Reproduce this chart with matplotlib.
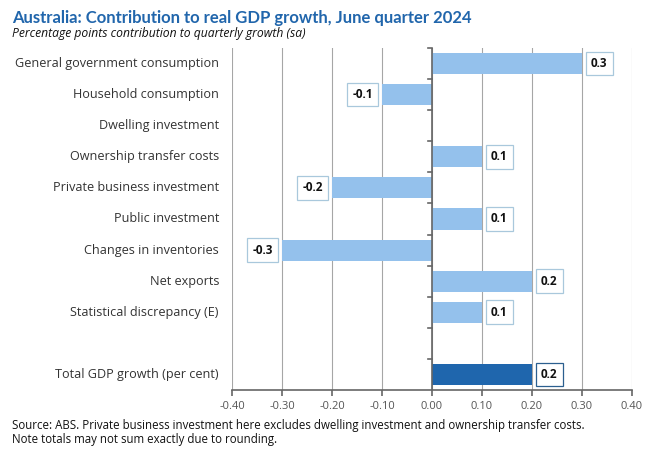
import numpy as np
import matplotlib.pyplot as plt

# data
categories = ["General government consumption", "Household consumption",
              "Dwelling investment", "Ownership transfer costs",
              "Private business investment", "Public investment",
              "Changes in inventories", "Net exports",
              "Statistical discrepancy (E)", "", "Total GDP growth (per cent)"]
values = [0.3, -0.1, 0.0, 0.1, -0.2, 0.1, -0.3, 0.2, 0.1, None, 0.2]
labels = ["0.3", "-0.1", "", "0.1", "-0.2", "0.1", "-0.3", "0.2", "0.1", "", "0.2"]
xticks = [-0.4, -0.3, -0.2, -0.1, 0.0, 0.1, 0.2, 0.3, 0.4]

light = "#94c1ec"
dark = "#1f66ad"

plt.rcParams['font.family'] = ['Open Sans', 'DejaVu Sans']

fig = plt.figure(figsize=(6.5, 4.55), dpi=100)
ax = fig.add_axes([232 / 650, 1 - 390 / 455, 400 / 650, 342 / 455])

y = np.arange(len(categories))
for i, (v, lab) in enumerate(zip(values, labels)):
    if v is None:
        continue
    total = i == len(categories) - 1
    col = dark if total else light
    ax.barh(y[i], v, height=0.68, color=col, zorder=2)
    if lab:
        off = 0.018 if v >= 0 else -0.018
        ax.text(v + off, y[i], lab, ha='left' if v >= 0 else 'right', va='center',
                fontsize=8.5, fontweight='bold', color='#111111', zorder=3,
                bbox=dict(boxstyle='square,pad=0.45', fc='white',
                          ec='#2b5f8f' if total else '#a9c8dc', lw=0.9))

ax.set_xlim(-0.4, 0.4)
ax.set_ylim(len(categories) - 0.5, -0.5)
ax.set_xticks(xticks)
ax.set_xticklabels([f"{t:.2f}" for t in xticks], color='#555555', fontsize=8)
ax.set_yticks([])
ax.grid(axis='x', color='#a6a6a6', lw=0.8, zorder=0)
for s in ['top', 'right', 'left']:
    ax.spines[s].set_visible(False)
ax.spines['bottom'].set_color('#666666')
ax.spines['bottom'].set_linewidth(1.2)
ax.tick_params(axis='x', direction='out', length=4, color='#666666', width=1.2, pad=4)

# zero axis with category boundary ticks
ax.axvline(0, color='#666666', lw=1.2, zorder=4)
for b in np.arange(-0.5, len(categories) - 0.5, 1.0):
    ax.plot([0, -0.008], [b, b], color='#666666', lw=1.2, zorder=4, clip_on=False)

for i, c in enumerate(categories):
    ax.text(-0.426, y[i], c, ha='right', va='center', fontsize=9.1, color='#333333')

fig.text(12 / 650, 1 - 18 / 455, "Australia: Contribution to real GDP growth, June quarter 2024",
         fontsize=12, fontweight='bold', color='#2166ac', va='center', family='Lato')
fig.text(12 / 650, 1 - 34 / 455, "Percentage points contribution to quarterly growth (sa)",
         fontsize=8.7, style='italic', color='#111111', va='center')
fig.text(12 / 650, 1 - 425 / 455,
         "Source: ABS. Private business investment here excludes dwelling investment and ownership transfer costs.",
         fontsize=8.3, color='#111111', va='center')
fig.text(12 / 650, 1 - 439 / 455, "Note totals may not sum exactly due to rounding.",
         fontsize=8.3, color='#111111', va='center')

fig.savefig("out.png", dpi=100)
